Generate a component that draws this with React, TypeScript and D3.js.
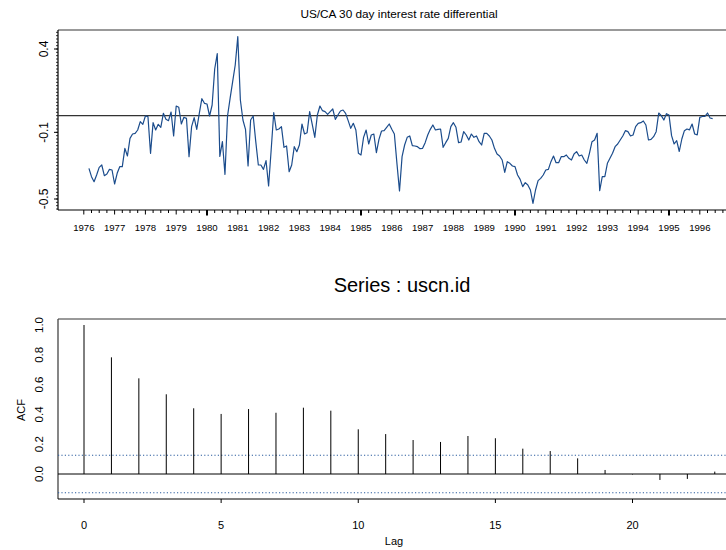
import React from "react";
import * as d3 from "d3";

// Monthly US/CA 30-day interest rate differential, March 1976 to June 1996
const startYear = 1976;
const startMonth = 3;
const differential = [
  -0.316, -0.366, -0.396, -0.356, -0.31, -0.296, -0.36, -0.35, -0.322, -0.326,
  -0.41, -0.346, -0.306, -0.306, -0.196, -0.242, -0.136, -0.11, -0.106, -0.086,
  -0.036, -0.052, -0.002, -0.006, -0.226, -0.042, -0.086, -0.052, -0.07, 0.014,
  -0.022, -0.03, 0.022, -0.122, 0.058, 0.05, -0.05, -0.01, -0.016, -0.246,
  -0.066, -0.012, -0.082, 0.014, 0.102, 0.074, 0.07, -0.002, 0.064, 0.28,
  0.372, -0.245, -0.155, -0.352, -0.002, 0.104, 0.204, 0.304, 0.474, 0.094,
  -0.026, -0.082, -0.302, -0.026, -0.002, -0.156, -0.296, -0.296, -0.322, -0.27,
  -0.422, -0.206, 0.018, -0.086, -0.08, -0.066, -0.19, -0.182, -0.336, -0.296,
  -0.186, -0.216, -0.176, -0.05, -0.11, -0.102, 0.024, -0.052, -0.13, 0.004,
  0.058, 0.03, 0.024, 0.008, 0.024, 0.04, -0.022, 0.004, 0.028, 0.034,
  0.014, -0.03, -0.076, -0.046, -0.086, -0.226, -0.236, -0.13, -0.086, -0.17,
  -0.116, -0.11, -0.222, -0.142, -0.092, -0.09, -0.07, -0.05, -0.082, -0.11,
  -0.286, -0.452, -0.246, -0.176, -0.13, -0.122, -0.18, -0.182, -0.186, -0.198,
  -0.196, -0.162, -0.116, -0.082, -0.056, -0.086, -0.082, -0.08, -0.19, -0.162,
  -0.136, -0.066, -0.042, -0.07, -0.162, -0.158, -0.096, -0.116, -0.146, -0.11,
  -0.13, -0.122, -0.156, -0.176, -0.106, -0.106, -0.122, -0.146, -0.196, -0.23,
  -0.242, -0.266, -0.34, -0.276, -0.286, -0.302, -0.306, -0.356, -0.382, -0.426,
  -0.402, -0.416, -0.446, -0.526, -0.446, -0.39, -0.376, -0.356, -0.326, -0.322,
  -0.276, -0.242, -0.282, -0.282, -0.246, -0.246, -0.236, -0.256, -0.266, -0.23,
  -0.216, -0.242, -0.236, -0.266, -0.286, -0.226, -0.156, -0.146, -0.106, -0.45,
  -0.366, -0.366, -0.286, -0.256, -0.226, -0.186, -0.17, -0.146, -0.122, -0.09,
  -0.096, -0.122, -0.116, -0.066, -0.046, -0.042, -0.032, -0.056, -0.146, -0.142,
  -0.126, -0.096, 0.016, 0.0, -0.026, 0.012, 0.004, -0.12, -0.17, -0.15,
  -0.215, -0.14, -0.09, -0.08, -0.085, -0.05, -0.11, -0.115, -0.01, -0.005,
  -0.004, 0.016, -0.014, -0.018,
];

const yearLabels = d3.range(1976, 1997);
const seriesTickLabels = [0.4, -0.1, -0.5];

// Sample autocorrelations of the series, lags 0..23
const lags = d3.range(0, 24);
const acfValues = [
  1.0, 0.783, 0.642, 0.535, 0.441, 0.403, 0.436, 0.411, 0.445, 0.425, 0.3,
  0.268, 0.228, 0.215, 0.255, 0.24, 0.17, 0.154, 0.105, 0.027, -0.003, -0.04,
  -0.033, 0.016,
];
const acfTickLabels = [0.0, 0.2, 0.4, 0.6, 0.8, 1.0];
const lagTickLabels = [0, 5, 10, 15, 20];
const confBound = 1.96 / Math.sqrt(differential.length);

const FONT = "'Liberation Sans', Arial, Helvetica, sans-serif";
const LINE_BLUE = "#1b4c8c";

export default function App() {
  // ---- top panel: time series ----
  const top = { left: 58, right: 742, top: 30, bottom: 210 };
  const xT = d3.scaleLinear().domain([1976, 1996]).range([83.8, 699.8]);
  const yT = d3.scaleLinear().domain([-0.5, 0.4]).range([199.0, 49.0]);
  const points = differential.map((v, i) => ({
    t: startYear + (startMonth - 1 + i) / 12,
    v,
  }));
  const linePath = d3
    .line<{ t: number; v: number }>()
    .x((d) => xT(d.t))
    .y((d) => yT(d.v))(points) as string;

  const quarterTicks = d3.range(1976, 1996.76, 0.25);
  const yMinor = d3.range(-56, 51, 2).map((k) => k / 100);

  // ---- bottom panel: ACF ----
  const bot = { left: 58, right: 742, top: 319, bottom: 499 };
  const xB = d3.scaleLinear().domain([0, 20]).range([84, 632.5]);
  const yB = d3.scaleLinear().domain([0, 1]).range([474, 325]);

  return (
    <svg
      width={726}
      height={550}
      style={{ position: "fixed", left: 0, top: 0, background: "#fff" }}
      fontFamily={FONT}
    >
      <rect x={0} y={0} width={726} height={550} fill="#fff" />

      {/* Top panel title */}
      <text x={399} y={18} fontSize={11.8} textAnchor="middle" fill="#000">
        US/CA 30 day interest rate differential
      </text>

      {/* Top panel frame */}
      <line x1={top.left} x2={top.right} y1={top.top} y2={top.top} stroke="#777" strokeWidth={1.6} />
      <line x1={top.left} x2={top.left} y1={top.top} y2={top.bottom} stroke="#000" strokeWidth={1.2} />
      <line x1={top.left} x2={top.right} y1={top.bottom} y2={top.bottom} stroke="#000" strokeWidth={1.2} />

      {/* Y axis ticks (minor every 0.02) */}
      {yMinor.map((v) => (
        <line key={"ym" + v} x1={top.left - 2} x2={top.left} y1={yT(v)} y2={yT(v)} stroke="#000" strokeWidth={0.8} />
      ))}
      {seriesTickLabels.map((v) => (
        <g key={"yl" + v}>
          <line x1={top.left - 4} x2={top.left} y1={yT(v)} y2={yT(v)} stroke="#000" strokeWidth={1} />
          <text
            transform={`translate(${48},${yT(v)}) rotate(-90)`}
            fontSize={12}
            textAnchor="middle"
            fill="#000"
          >
            {v.toFixed(1)}
          </text>
        </g>
      ))}

      {/* X axis ticks: quarters, years, five-year marks */}
      {quarterTicks.map((t) => {
        const isYear = Math.abs(t - Math.round(t)) < 1e-6;
        const isFive = isYear && Math.round(t) % 5 === 0;
        return (
          <line
            key={"xq" + t}
            x1={xT(t)}
            x2={xT(t)}
            y1={top.bottom}
            y2={top.bottom + (isFive ? 5.5 : isYear ? 4.5 : 3)}
            stroke="#000"
            strokeWidth={isFive ? 2 : 1}
          />
        );
      })}
      {yearLabels.map((yr) => (
        <text key={"yr" + yr} x={xT(yr)} y={231} fontSize={9.6} textAnchor="middle" fill="#000">
          {yr}
        </text>
      ))}

      {/* Zero reference line */}
      <line x1={top.left} x2={top.right} y1={yT(0)} y2={yT(0)} stroke="#333" strokeWidth={1.3} />

      {/* Series */}
      <path d={linePath} fill="none" stroke={LINE_BLUE} strokeWidth={1.2} strokeLinejoin="round" />

      {/* Bottom panel title */}
      <text x={402} y={292} fontSize={20} textAnchor="middle" fill="#000">
        Series : uscn.id
      </text>

      {/* Bottom panel frame */}
      <line x1={bot.left} x2={bot.right} y1={bot.top} y2={bot.top} stroke="#777" strokeWidth={1.6} />
      <line x1={bot.left} x2={bot.left} y1={bot.top} y2={bot.bottom} stroke="#444" strokeWidth={1.3} />
      <line x1={bot.left} x2={bot.right} y1={bot.bottom} y2={bot.bottom} stroke="#000" strokeWidth={1.2} />

      {/* Confidence bounds */}
      {[confBound, -confBound].map((b) => (
        <line
          key={"cb" + b}
          x1={bot.left}
          x2={bot.right}
          y1={yB(b)}
          y2={yB(b)}
          stroke="#2a5c9e"
          strokeWidth={1.1}
          strokeDasharray="1.2,2.2"
        />
      ))}

      {/* Zero line */}
      <line x1={bot.left} x2={bot.right} y1={yB(0)} y2={yB(0)} stroke="#000" strokeWidth={1} />

      {/* ACF spikes */}
      {lags.map((lag, i) => (
        <line
          key={"acf" + lag}
          x1={xB(lag)}
          x2={xB(lag)}
          y1={yB(0)}
          y2={yB(acfValues[i])}
          stroke="#000"
          strokeWidth={1}
        />
      ))}

      {/* Bottom axes */}
      {acfTickLabels.map((v) => (
        <text
          key={"al" + v}
          transform={`translate(${43},${yB(v)}) rotate(-90)`}
          fontSize={11.5}
          textAnchor="middle"
          fill="#000"
        >
          {v.toFixed(1)}
        </text>
      ))}
      {lagTickLabels.map((l) => (
        <g key={"lt" + l}>
          <line x1={xB(l)} x2={xB(l)} y1={bot.bottom} y2={bot.bottom + 4} stroke="#000" strokeWidth={1} />
          <text x={xB(l)} y={529} fontSize={11} textAnchor="middle" fill="#000">
            {l}
          </text>
        </g>
      ))}
      <text x={394} y={545} fontSize={11} textAnchor="middle" fill="#000">
        Lag
      </text>
      <text
        transform={`translate(${25},${410}) rotate(-90)`}
        fontSize={11}
        textAnchor="middle"
        fill="#000"
      >
        ACF
      </text>
    </svg>
  );
}
